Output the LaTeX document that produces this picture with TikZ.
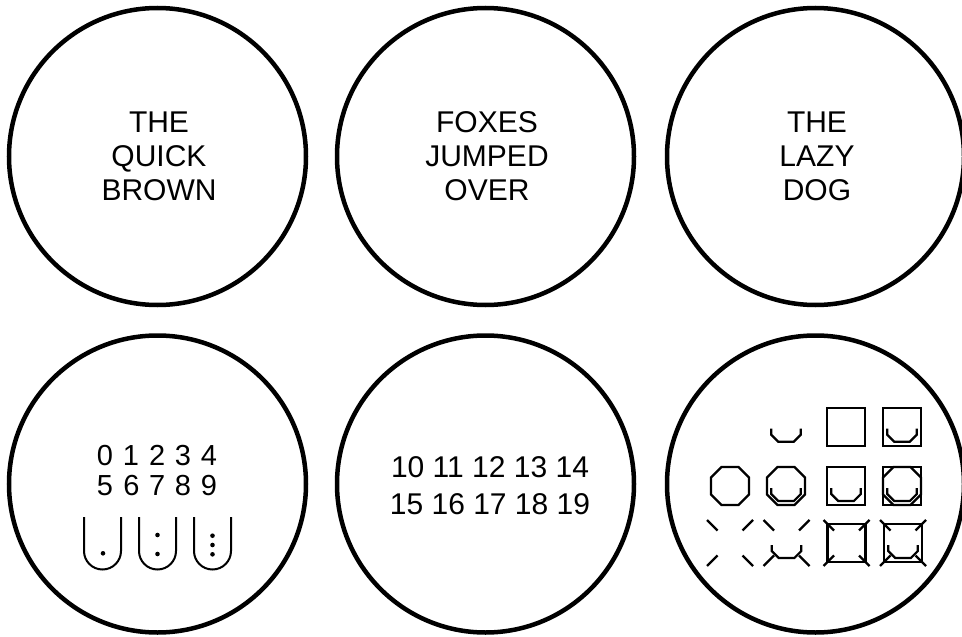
\documentclass[tikz,border=0pt]{standalone}
\usepackage{fontspec}
\setmainfont{Liberation Sans}
\tikzset{
 circ/.style={circle, draw, line width=4.5pt, minimum size=297pt, inner sep=0pt},
 lbl/.style={anchor=base, inner sep=0pt, font=\fontsize{30}{34}\selectfont},
 dig/.style={anchor=base, inner sep=0pt, font=\fontsize{29}{32}\selectfont},
 sym/.style={line width=2.2pt},
 ushape/.style={line width=2pt},
 octg/.pic={\draw[sym] (10.5,0)--(27.5,0)--(38,10.5)--(38,27.5)--(27.5,38)--(10.5,38)--(0,27.5)--(0,10.5)--cycle;},
 sqr/.pic={\draw[sym] (0,0) rectangle (38,38);},
 ubow/.pic={\draw[sym] (4.2,21)--(4.2,27)--(11.2,34)--(26.8,34)--(33.8,27)--(33.8,21);},
 xtick/.pic={\draw[sym] (-4,-4)--(6.5,6.5) (42,-4)--(31.5,6.5) (-4,42)--(6.5,31.5) (42,42)--(31.5,31.5);},
}
\begin{document}
\begin{tikzpicture}[x=1pt,y=-1pt]
\useasboundingbox (0,0) rectangle (962,637);
% circles
\node[circ] (c1) at (157.5,156.5) {};
\node[circ] (c2) at (485.5,156.5) {};
\node[circ] (c3) at (815.5,156.5) {};
\node[circ] (c4) at (157.5,484) {};
\node[circ] (c5) at (485.5,484) {};
\node[circ] (c6) at (815.5,484) {};
% top texts
\node[lbl] (t1a) at (159,132) {THE};
\node[lbl] (t1b) at (159,166) {QUICK};
\node[lbl] (t1c) at (159,200) {BROWN};
\node[lbl] (t2a) at (487,132) {FOXES};
\node[lbl] (t2b) at (487,166) {JUMPED};
\node[lbl] (t2c) at (487,200) {OVER};
\node[lbl] (t3a) at (817,132) {THE};
\node[lbl] (t3b) at (817,166) {LAZY};
\node[lbl] (t3c) at (817,200) {DOG};
% digits circle 4
\foreach \d/\x in {0/105,1/131,2/157.3,3/183,4/209}{\node[dig] (d\d) at (\x,465) {\d};}
\foreach \d/\x in {5/105,6/131.5,7/157.3,8/183,9/209}{\node[dig] (d\d) at (\x,495) {\d};}
% U shapes
\foreach \c in {102.5,157.5,212.5}{
 \draw[ushape] (\c-18.5,517) -- (\c-18.5,551) arc[start angle=180,end angle=360,radius=18.5pt] -- (\c+18.5,517);
}
\fill (103,553.3) circle[radius=2.3pt];
\fill (157.5,535) circle[radius=2.3pt];
\fill (157.5,554) circle[radius=2.3pt];
\fill (212.5,535.7) circle[radius=2.3pt];
\fill (212.5,545) circle[radius=2.3pt];
\fill (212.5,554.3) circle[radius=2.3pt];
% numbers circle 5
\node[lbl] (n1) at (490,477) {10 11 12 13 14};
\node[lbl] (n2) at (490,514) {15 16 17 18 19};
% symbols circle 6
\pic at (767,407.7) {ubow};
\pic at (827,407.7) {sqr};
\pic at (883,407.7) {sqr};
\pic at (883,407.7) {ubow};
\pic at (711,467) {octg};
\pic at (767,467) {octg};
\pic at (767,467) {ubow};
\pic at (827,467) {sqr};
\pic at (827,467) {ubow};
\pic at (883,467) {sqr};
\pic at (883,467) {octg};
\pic at (883,467) {ubow};
\pic at (711,524) {xtick};
\pic at (767.5,524) {xtick};
\pic at (767.5,524) {ubow};
\pic at (827.5,524) {sqr};
\pic at (827.5,524) {xtick};
\pic at (884,524) {sqr};
\pic at (884,524) {xtick};
\pic at (884,524) {ubow};
\end{tikzpicture}
\end{document}
